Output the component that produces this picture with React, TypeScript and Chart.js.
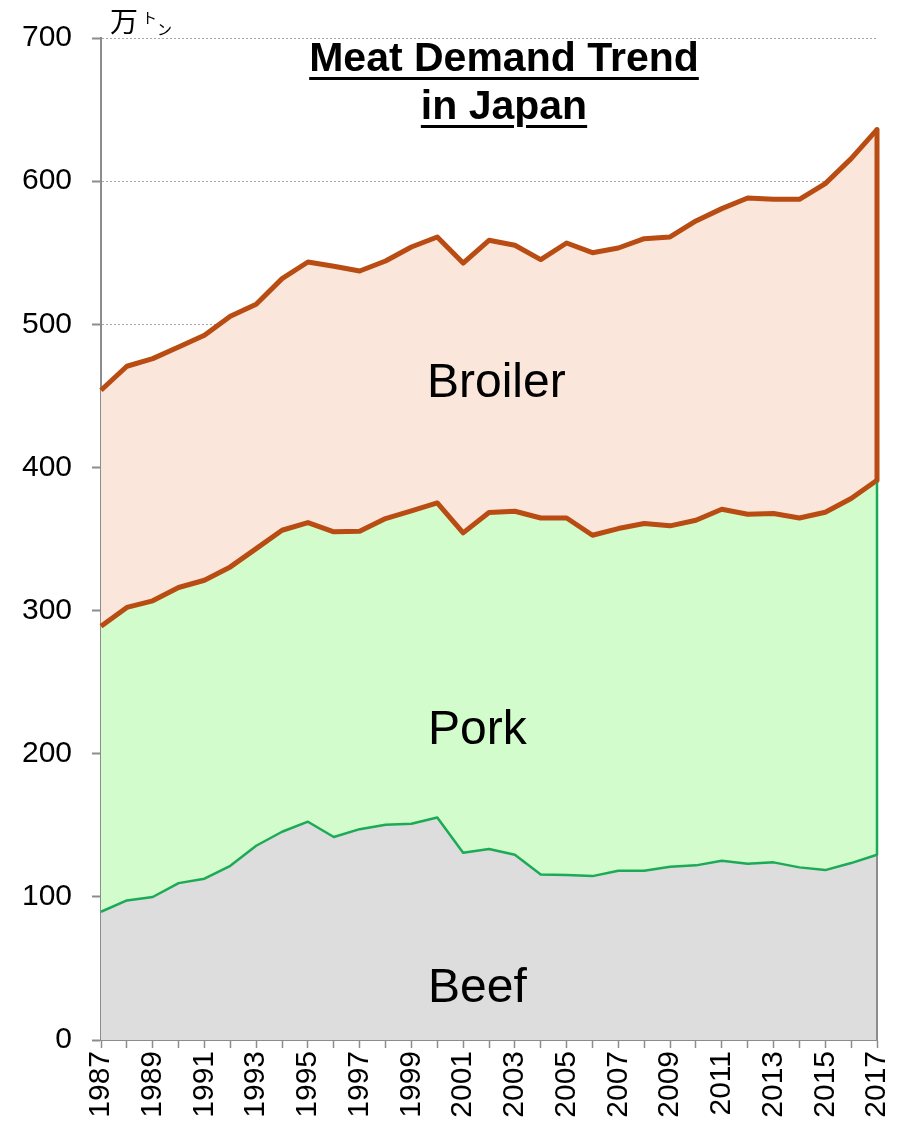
import React, { useEffect, useRef } from 'react';
import { Chart, registerables } from 'chart.js';

Chart.register(...registerables);

const YEARS = [
  '1987', '1988', '1989', '1990', '1991', '1992', '1993', '1994', '1995', '1996',
  '1997', '1998', '1999', '2000', '2001', '2002', '2003', '2004', '2005', '2006',
  '2007', '2008', '2009', '2010', '2011', '2012', '2013', '2014', '2015', '2016', '2017',
];

// 万トン
const BEEF = [
  89.6, 97.5, 99.9, 109.6, 112.7, 121.7, 135.7, 145.5, 152.5, 141.8,
  147.3, 150.4, 151.1, 155.5, 130.8, 133.4, 129.4, 115.7, 115.2, 114.5,
  118.2, 118.2, 121.0, 122.0, 125.2, 123.1, 124.1, 120.6, 118.7, 123.6, 129.4,
];

const PORK = [
  199.5, 204.7, 206.9, 206.5, 208.5, 208.8, 207.6, 210.6, 209.0, 213.2,
  208.1, 213.9, 218.5, 219.7, 223.5, 235.1, 240.0, 249.0, 249.5, 238.1,
  239.1, 242.6, 238.2, 241.1, 245.6, 244.2, 243.7, 244.1, 250.0, 254.7, 261.7,
];

const BROILER = [
  164.8, 168.5, 169.2, 168.1, 171.1, 175.1, 170.7, 175.8, 182.0, 185.5,
  181.8, 179.9, 184.4, 185.8, 188.5, 190.2, 185.8, 180.5, 192.1, 197.4,
  196.0, 199.0, 201.8, 209.1, 210.0, 220.9, 219.5, 222.6, 229.6, 237.4, 244.9,
];

const Y_MIN = 0;
const Y_MAX = 700;
const Y_STEP = 100;

const FONT = '"Liberation Sans", Arial, sans-serif';
const BROWN = '#B84C12';
const GREEN = '#1BAA55';
const AXIS_GRAY = '#8C8C8C';

const edgePlugin = {
  id: 'rightEdge',
  afterDatasetsDraw(chart: any) {
    const { ctx, scales } = chart;
    const x = scales.x;
    const y = scales.y;
    const i = YEARS.length - 1;
    const px = x.getPixelForValue(i);
    const b = BEEF[i];
    const p = b + PORK[i];
    const t = p + BROILER[i];
    const seg = (v0: number, v1: number, color: string, w: number) => {
      ctx.save();
      ctx.strokeStyle = color;
      ctx.lineWidth = w;
      ctx.lineCap = 'round';
      ctx.beginPath();
      ctx.moveTo(px, y.getPixelForValue(v0));
      ctx.lineTo(px, y.getPixelForValue(v1));
      ctx.stroke();
      ctx.restore();
    };
    seg(0, b, AXIS_GRAY, 2);
    seg(b, p, GREEN, 2.5);
    seg(p, t, BROWN, 5);
  },
};

export default function App() {
  const ref = useRef<HTMLCanvasElement | null>(null);

  useEffect(() => {
    if (!ref.current) return;
    const chart = new Chart(ref.current, {
      type: 'line',
      data: {
        labels: YEARS,
        datasets: [
          {
            label: 'Beef',
            data: BEEF,
            borderColor: GREEN,
            borderWidth: 2.5,
            backgroundColor: '#DDDDDD',
            fill: 'origin',
            pointRadius: 0,
            tension: 0,
            borderJoinStyle: 'round',
          },
          {
            label: 'Pork',
            data: PORK,
            borderColor: BROWN,
            borderWidth: 5,
            backgroundColor: '#D2FCCC',
            fill: '-1',
            pointRadius: 0,
            tension: 0,
            borderJoinStyle: 'round',
          },
          {
            label: 'Broiler',
            data: BROILER,
            borderColor: BROWN,
            borderWidth: 5,
            backgroundColor: '#FAE6DA',
            fill: '-1',
            pointRadius: 0,
            tension: 0,
            borderJoinStyle: 'round',
          },
        ],
      },
      options: {
        animation: false,
        responsive: false,
        devicePixelRatio: 1,
        layout: { padding: { top: 38, right: 21, left: 0, bottom: 0 } },
        plugins: {
          legend: { display: false },
          tooltip: { enabled: false },
          title: { display: false },
        },
        scales: {
          x: {
            z: 1,
            offset: false,
            grid: {
              display: true,
              drawOnChartArea: false,
              drawTicks: true,
              tickLength: 8,
              tickColor: AXIS_GRAY,
              tickWidth: 1.5,
            },
            border: { display: true, color: AXIS_GRAY, width: 2 },
            ticks: {
              autoSkip: false,
              maxRotation: 90,
              minRotation: 90,
              padding: 3,
              color: '#000',
              font: { family: FONT, size: 30 },
              callback: (_v: any, idx: number) => (idx % 2 === 0 ? YEARS[idx] : ''),
            },
            afterFit: (s: any) => {
              s.height = 82;
              s.paddingLeft = 0;
              s.paddingRight = 0;
            },
          },
          y: {
            z: 1,
            stacked: true,
            min: Y_MIN,
            max: Y_MAX,
            grid: {
              color: '#A8A8A8',
              lineWidth: 1,
              drawTicks: true,
              tickLength: 9,
              tickColor: AXIS_GRAY,
              tickWidth: 2,
            },
            border: { display: true, color: AXIS_GRAY, width: 2, dash: [2, 2] },
            ticks: {
              stepSize: Y_STEP,
              padding: 20,
              color: '#000',
              font: { family: FONT, size: 30 },
            },
            afterFit: (s: any) => {
              s.width = 101;
              s.paddingTop = 0;
              s.paddingBottom = 0;
            },
          },
        },
      },
      plugins: [edgePlugin],
    } as any);
    return () => chart.destroy();
  }, []);

  const labelStyle: React.CSSProperties = {
    position: 'absolute',
    fontFamily: FONT,
    fontSize: 48,
    lineHeight: '48px',
    color: '#000',
    whiteSpace: 'nowrap',
  };

  return (
    <div style={{ position: 'absolute', left: 0, top: 0, width: 898, height: 1122, background: '#fff' }}>
      <canvas ref={ref} width={898} height={1122} style={{ width: 898, height: 1122, display: 'block' }} />
      <div
        style={{
          position: 'absolute',
          left: 304,
          width: 400,
          top: 33,
          textAlign: 'center',
          fontFamily: FONT,
          fontWeight: 'bold',
          fontSize: 41,
          lineHeight: '48px',
          color: '#000',
          textDecoration: 'underline',
          textDecorationThickness: '3px',
          textUnderlineOffset: '6px',
        }}
      >
        <div>Meat Demand Trend</div>
        <div>in Japan</div>
      </div>
      <div
        style={{
          position: 'absolute',
          left: 110,
          top: 6,
          fontFamily: '"Noto Sans CJK JP", sans-serif',
          fontSize: 28,
          lineHeight: '28px',
          color: '#000',
          whiteSpace: 'nowrap',
        }}
      >
        万
        <span style={{ fontSize: 15, position: 'relative', top: -9, marginLeft: 4 }}>ト</span>
        <span style={{ fontSize: 15, position: 'relative', top: 3 }}>ン</span>
      </div>
      <div style={{ ...labelStyle, left: 427, top: 357 }}>Broiler</div>
      <div style={{ ...labelStyle, left: 428, top: 704 }}>Pork</div>
      <div style={{ ...labelStyle, left: 428, top: 962 }}>Beef</div>
    </div>
  );
}
